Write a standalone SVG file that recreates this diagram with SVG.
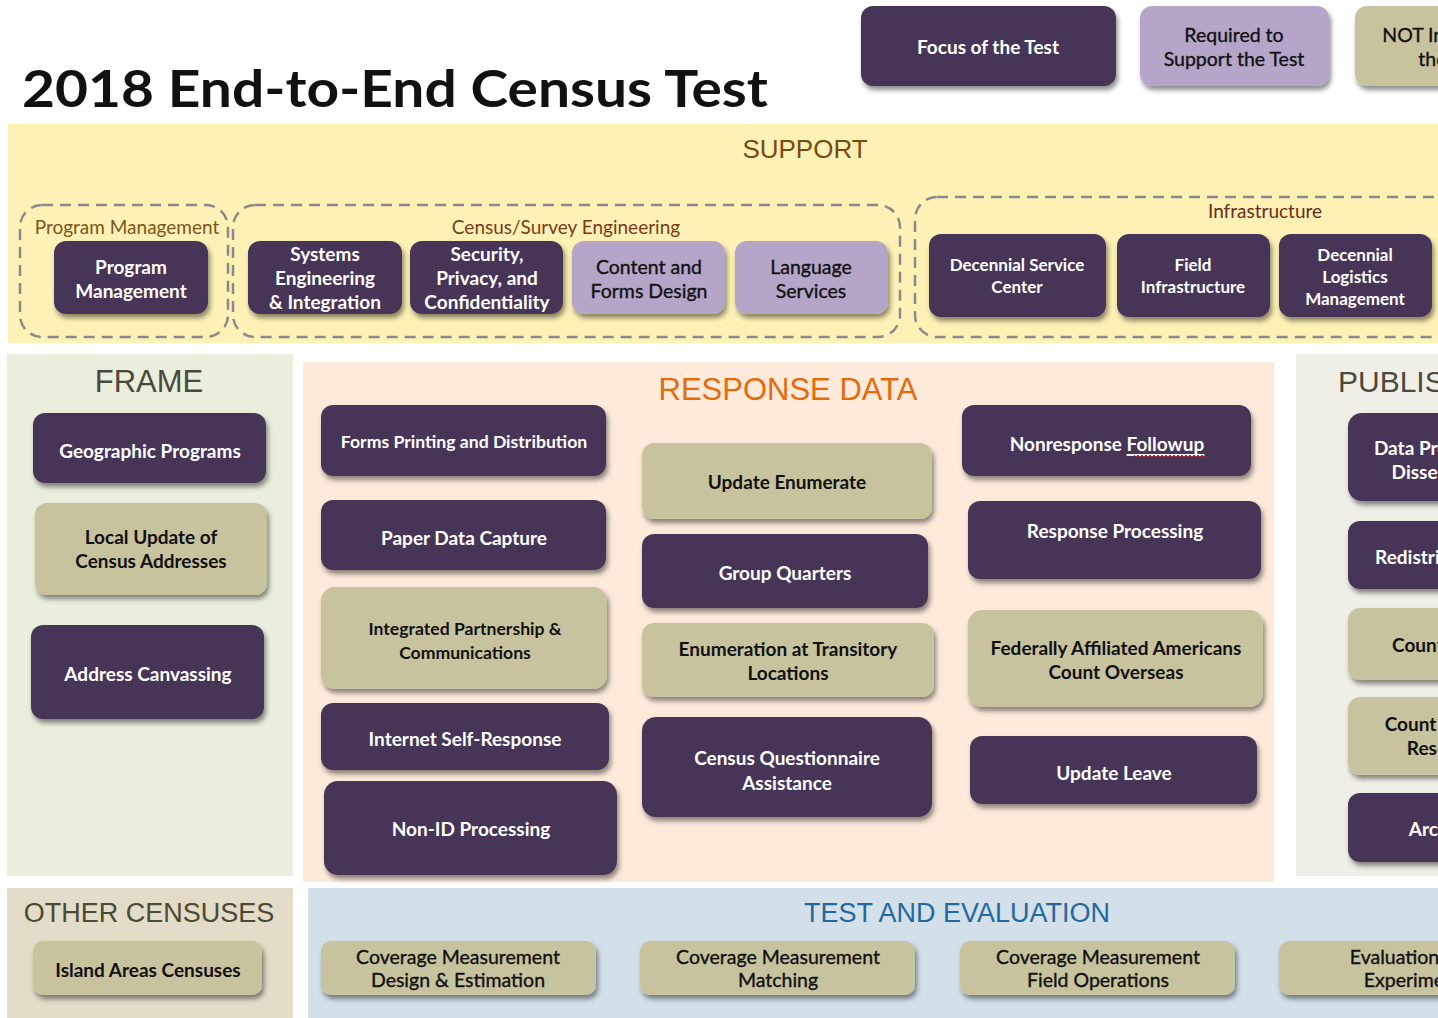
<svg xmlns="http://www.w3.org/2000/svg" width="1438" height="1018" viewBox="0 0 1438 1018">
<defs>
<filter id="sh" x="-10%" y="-10%" width="120%" height="140%">
<feDropShadow dx="2" dy="4" stdDeviation="2.5" flood-color="#000" flood-opacity="0.45"/>
</filter>
<style>
.d{fill:#463658;filter:url(#sh)}
.l{fill:#b5a6c9;filter:url(#sh)}
.k{fill:#c8c39f;filter:url(#sh)}
.tw{font-family:Lato,"Open Sans",sans-serif;font-weight:700;font-size:19px;fill:#fff;text-anchor:middle;dominant-baseline:central}
.tb{font-family:Lato,"Open Sans",sans-serif;font-weight:700;font-size:19px;fill:#111;text-anchor:middle;dominant-baseline:central}
.tn{font-family:Lato,"Open Sans",sans-serif;font-weight:400;font-size:19.5px;fill:#111;stroke:#111;stroke-width:0.35;text-anchor:middle;dominant-baseline:central}
.s{font-size:17px}
.s2{font-size:17.6px}
.hd{font-family:"Liberation Sans",Arial,sans-serif;text-anchor:middle}
.grp{fill:none;stroke:#8a8a8a;stroke-width:2.5;stroke-dasharray:11 7}
.gl{font-family:Lato,"Open Sans",sans-serif;font-size:19px;text-anchor:middle}
</style>
</defs>
<rect width="1438" height="1018" fill="#fff"/>
<text x="22" y="107" font-family="Lato,'Open Sans',sans-serif" font-weight="700" font-size="52" fill="#111" textLength="746" lengthAdjust="spacingAndGlyphs">2018 End-to-End Census Test</text>

<g id="panels">
<rect x="8" y="124" width="1430" height="219" fill="#fdf1b5"/>
<rect x="7" y="354" width="286" height="522" fill="#e9eedd"/>
<rect x="303" y="362" width="971" height="520" fill="#fdeadb"/>
<rect x="1296" y="354" width="142" height="522" fill="#f0efe7"/>
<rect x="7" y="888" width="286" height="130" fill="#e2dcc8"/>
<rect x="308" y="888" width="1130" height="130" fill="#d3e0ea"/>
<text class="hd" x="805" y="158" font-size="26" fill="#7a4a10">SUPPORT</text>
<text class="hd" x="149" y="392" font-size="31" fill="#4a4a3c">FRAME</text>
<text class="hd" x="788" y="400" font-size="31" fill="#e46c0a">RESPONSE DATA</text>
<text x="1338" y="392" font-family="'Liberation Sans',Arial,sans-serif" font-size="30" fill="#4a4a3c">PUBLISH</text>
<text class="hd" x="149" y="922" font-size="27" fill="#4a4a35">OTHER CENSUSES</text>
<text class="hd" x="957" y="922" font-size="27" fill="#2468a0">TEST AND EVALUATION</text>
</g>

<g id="groups">
<rect class="grp" x="20" y="205" width="208" height="132" rx="22"/>
<text class="gl" x="127" y="234" fill="#7f5418">Program Management</text>
<rect class="grp" x="233" y="205" width="667" height="132" rx="22"/>
<text class="gl" x="566" y="234" fill="#7a3a1a">Census/Survey Engineering</text>
<rect class="grp" x="915" y="197" width="560" height="140" rx="22"/>
<text class="gl" x="1265" y="218" fill="#6a2a1a">Infrastructure</text>
</g>

<g id="legend-focus"><rect class="d" x="861" y="6" width="255" height="80" rx="12"/><text class="tw" x="988" y="46">Focus of the Test</text></g>
<g id="legend-required"><rect class="l" x="1140" y="6" width="189" height="80" rx="12"/><text class="tn" x="1234" y="34">Required to</text><text class="tn" x="1234" y="58">Support the Test</text></g>
<g id="legend-not"><rect class="k" x="1355" y="6" width="189" height="80" rx="12"/><text class="tn" x="1452" y="34">NOT Included in</text><text class="tn" x="1452" y="58">the Test</text></g>

<g id="n-pm"><rect class="d" x="54" y="241" width="154" height="73" rx="12"/><text class="tw" x="131" y="266">Program</text><text class="tw" x="131" y="290">Management</text></g>
<g id="n-sei"><rect class="d" x="248" y="241" width="154" height="73" rx="12"/><text class="tw" x="325" y="253">Systems</text><text class="tw" x="325" y="277">Engineering</text><text class="tw" x="325" y="301">&amp; Integration</text></g>
<g id="n-sec"><rect class="d" x="410" y="241" width="153" height="73" rx="12"/><text class="tw" x="487" y="253">Security,</text><text class="tw" x="487" y="277">Privacy, and</text><text class="tw" x="487" y="301">Confidentiality</text></g>
<g id="n-cfd"><rect class="l" x="572" y="241" width="153" height="73" rx="12"/><text class="tn" x="649" y="266">Content and</text><text class="tn" x="649" y="290">Forms Design</text></g>
<g id="n-lang"><rect class="l" x="735" y="241" width="153" height="73" rx="12"/><text class="tn" x="811" y="266">Language</text><text class="tn" x="811" y="290">Services</text></g>
<g id="n-dsc"><rect class="d" x="929" y="234" width="177" height="83" rx="12"/><text class="tw s" x="1017" y="264">Decennial Service</text><text class="tw s" x="1017" y="286">Center</text></g>
<g id="n-fi"><rect class="d" x="1117" y="234" width="153" height="83" rx="12"/><text class="tw s" x="1193" y="264">Field</text><text class="tw s" x="1193" y="286">Infrastructure</text></g>
<g id="n-dlm"><rect class="d" x="1279" y="234" width="153" height="83" rx="12"/><text class="tw s" x="1355" y="254">Decennial</text><text class="tw s" x="1355" y="276">Logistics</text><text class="tw s" x="1355" y="298">Management</text></g>

<g id="n-geo"><rect class="d" x="33" y="413" width="233" height="70" rx="12"/><text class="tw" x="150" y="450">Geographic Programs</text></g>
<g id="n-luca"><rect class="k" x="35" y="503" width="232" height="92" rx="12"/><text class="tb" x="151" y="536">Local Update of</text><text class="tb" x="151" y="560">Census Addresses</text></g>
<g id="n-adcan"><rect class="d" x="31" y="625" width="233" height="94" rx="12"/><text class="tw" x="148" y="673">Address Canvassing</text></g>

<g id="n-fpd"><rect class="d" x="321" y="405" width="285" height="71" rx="12"/><text class="tw s2" x="464" y="441">Forms Printing and Distribution</text></g>
<g id="n-pdc"><rect class="d" x="321" y="500" width="285" height="70" rx="12"/><text class="tw" x="464" y="537">Paper Data Capture</text></g>
<g id="n-ipc"><rect class="k" x="321" y="587" width="286" height="102" rx="14"/><text class="tb s2" x="465" y="628">Integrated Partnership &amp;</text><text class="tb s2" x="465" y="652">Communications</text></g>
<g id="n-isr"><rect class="d" x="321" y="703" width="288" height="67" rx="12"/><text class="tw" x="465" y="738">Internet Self-Response</text></g>
<g id="n-nonid"><rect class="d" x="324" y="781" width="293" height="94" rx="14"/><text class="tw" x="471" y="828">Non-ID Processing</text></g>

<g id="n-ue"><rect class="k" x="642" y="443" width="290" height="76" rx="12"/><text class="tb" x="787" y="481">Update Enumerate</text></g>
<g id="n-gq"><rect class="d" x="642" y="534" width="286" height="74" rx="12"/><text class="tw" x="785" y="572">Group Quarters</text></g>
<g id="n-etl"><rect class="k" x="642" y="623" width="292" height="74" rx="12"/><text class="tb" x="788" y="648">Enumeration at Transitory</text><text class="tb" x="788" y="672">Locations</text></g>
<g id="n-cqa"><rect class="d" x="642" y="717" width="290" height="100" rx="14"/><text class="tw" x="787" y="757">Census Questionnaire</text><text class="tw" x="787" y="782">Assistance</text></g>

<g id="n-nrfu"><rect class="d" x="962" y="405" width="289" height="71" rx="12"/><text class="tw" x="1107" y="443">Nonresponse <tspan text-decoration="underline">Followup</tspan></text><polyline points="1134,455 1136,457 1138,455 1140,457 1142,455 1144,457 1146,455 1148,457 1150,455 1152,457 1154,455 1156,457 1158,455 1160,457 1162,455 1164,457 1166,455 1168,457 1170,455 1172,457 1174,455 1176,457 1178,455 1180,457 1182,455 1184,457 1186,455 1188,457 1190,455 1192,457 1194,455 1196,457 1198,455 1200,457 1202,455 1204,457 1206,455" fill="none" stroke="#d02020" stroke-width="1"/></g>
<g id="n-rp"><rect class="d" x="968" y="501" width="293" height="78" rx="12"/><text class="tw" x="1115" y="530">Response Processing</text></g>
<g id="n-faaco"><rect class="k" x="968" y="610" width="295" height="97" rx="14"/><text class="tb" x="1116" y="647">Federally Affiliated Americans</text><text class="tb" x="1116" y="671">Count Overseas</text></g>
<g id="n-ul"><rect class="d" x="970" y="736" width="287" height="68" rx="12"/><text class="tw" x="1114" y="772">Update Leave</text></g>

<g id="n-dpd"><rect class="d" x="1348" y="413" width="194" height="88" rx="14"/><text class="tw" x="1452" y="447">Data Products and</text><text class="tw" x="1452" y="471">Dissemination</text></g>
<g id="n-rd"><rect class="d" x="1348" y="521" width="194" height="68" rx="12"/><text class="tw" x="1451" y="556">Redistricting Data</text></g>
<g id="n-cr"><rect class="k" x="1348" y="608" width="194" height="72" rx="12"/><text class="tb" x="1451" y="644">Count Review</text></g>
<g id="n-cqr"><rect class="k" x="1348" y="697" width="194" height="78" rx="12"/><text class="tb" x="1452" y="723">Count Question</text><text class="tb" x="1452" y="747">Resolution</text></g>
<g id="n-arch"><rect class="d" x="1348" y="793" width="194" height="69" rx="12"/><text class="tw" x="1449" y="828">Archiving</text></g>

<g id="n-iac"><rect class="k" x="33" y="941" width="229" height="54" rx="10"/><text class="tb" x="148" y="969">Island Areas Censuses</text></g>
<g id="n-cmde"><rect class="k" x="321" y="941" width="275" height="54" rx="10"/><text class="tn" x="458" y="956">Coverage Measurement</text><text class="tn" x="458" y="979">Design &amp; Estimation</text></g>
<g id="n-cmm"><rect class="k" x="640" y="941" width="275" height="54" rx="10"/><text class="tn" x="778" y="956">Coverage Measurement</text><text class="tn" x="778" y="979">Matching</text></g>
<g id="n-cmfo"><rect class="k" x="960" y="941" width="275" height="54" rx="10"/><text class="tn" x="1098" y="956">Coverage Measurement</text><text class="tn" x="1098" y="979">Field Operations</text></g>
<g id="n-ee"><rect class="k" x="1279" y="941" width="275" height="54" rx="10"/><text class="tn" x="1417" y="956">Evaluations and</text><text class="tn" x="1417" y="979">Experiments</text></g>

<g id="connectors"></g>
</svg>
